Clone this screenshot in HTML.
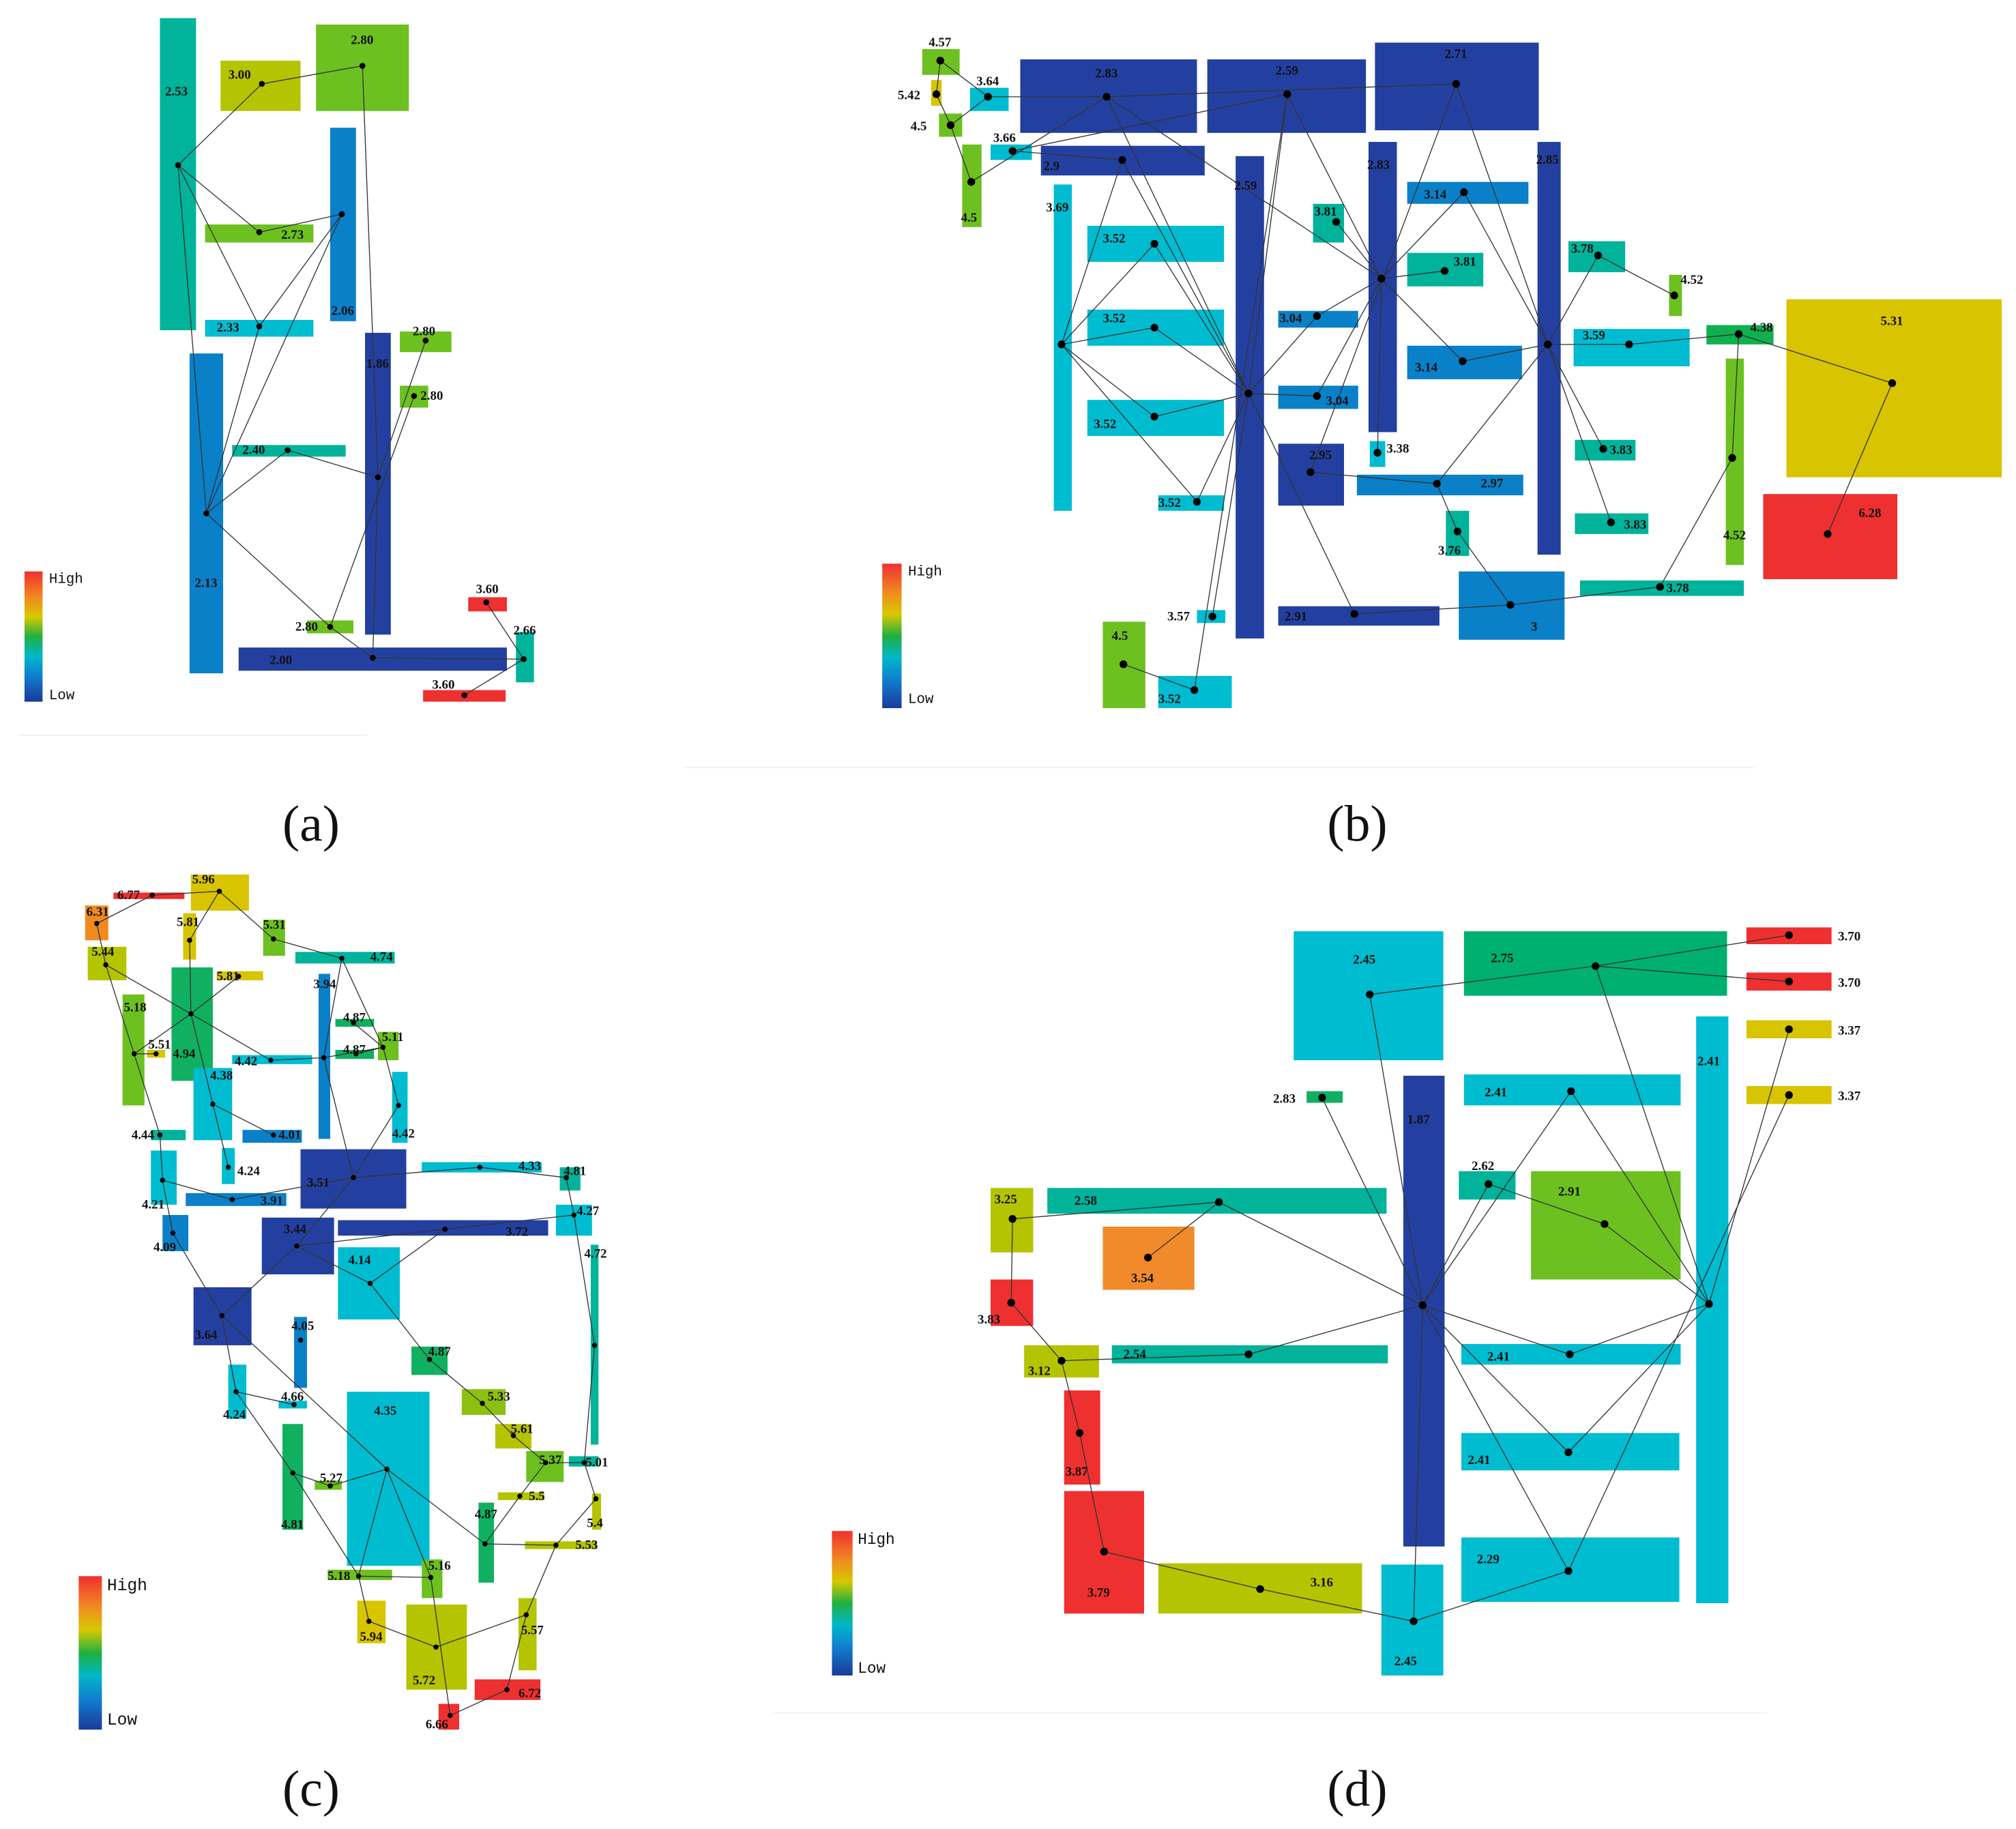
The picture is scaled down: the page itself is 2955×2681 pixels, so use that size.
<!DOCTYPE html>
<html><head><meta charset="utf-8"><style>
html,body{margin:0;padding:0;background:#fff}
svg{display:block}
text{font-family:"Liberation Serif",serif;font-weight:bold;font-size:10px;fill:#111}
.cap{font-size:40px;font-weight:normal}
.lg{font-family:"Liberation Mono",monospace;font-weight:normal;font-size:11px}
line{stroke:#333;stroke-width:0.7}
circle{fill:#000}
</style></head><body>
<svg width="2955" height="2681" viewBox="0 0 1563 1418" xmlns="http://www.w3.org/2000/svg">
<defs><linearGradient id="g" x1="0" y1="0" x2="0" y2="1">
<stop offset="0" stop-color="#f03030"/><stop offset="0.2" stop-color="#f08a20"/><stop offset="0.35" stop-color="#d8c800"/><stop offset="0.5" stop-color="#20b040"/><stop offset="0.65" stop-color="#00b8c8"/><stop offset="0.8" stop-color="#1080d0"/><stop offset="1" stop-color="#1a3a9a"/></linearGradient></defs>

<!-- ===== (a) ===== -->
<g>
<rect x="124" y="14" width="28" height="242" fill="#00b39a"/>
<rect x="171" y="47" width="62" height="39" fill="#b5c400"/>
<rect x="245" y="19" width="72" height="67" fill="#6cc020"/>
<rect x="256" y="99" width="20" height="150" fill="#0a80c8"/>
<rect x="159" y="174" width="84" height="14" fill="#6cc020"/>
<rect x="159" y="248" width="84" height="13" fill="#00bcd0"/>
<rect x="283" y="258" width="20" height="234" fill="#2340a0"/>
<rect x="310" y="257" width="40" height="16" fill="#6cc020"/>
<rect x="310" y="299" width="22" height="17" fill="#6cc020"/>
<rect x="180" y="345" width="88" height="9" fill="#00b39a"/>
<rect x="147" y="274" width="26" height="248" fill="#0a80c8"/>
<rect x="238" y="481" width="36" height="10" fill="#6cc020"/>
<rect x="185" y="502" width="208" height="18" fill="#2340a0"/>
<rect x="363" y="463" width="30" height="11" fill="#ee3030"/>
<rect x="400" y="490" width="14" height="39" fill="#00b39a"/>
<rect x="328" y="535" width="64" height="9" fill="#ee3030"/>
<line x1="138" y1="128" x2="203" y2="65"/><line x1="203" y1="65" x2="281" y2="51"/><line x1="281" y1="51" x2="293" y2="370"/>
<line x1="138" y1="128" x2="201" y2="180"/><line x1="201" y1="180" x2="265" y2="166"/><line x1="138" y1="128" x2="201" y2="253"/>
<line x1="265" y1="166" x2="201" y2="253"/><line x1="138" y1="128" x2="160" y2="398"/><line x1="201" y1="253" x2="160" y2="398"/>
<line x1="160" y1="398" x2="223" y2="349"/><line x1="223" y1="349" x2="293" y2="370"/><line x1="160" y1="398" x2="256" y2="486"/>
<line x1="265" y1="166" x2="160" y2="398"/><line x1="293" y1="370" x2="330" y2="264"/><line x1="321" y1="307" x2="256" y2="486"/>
<line x1="293" y1="370" x2="289" y2="510"/><line x1="256" y1="486" x2="289" y2="510"/><line x1="289" y1="510" x2="406" y2="511"/>
<line x1="377" y1="467" x2="406" y2="511"/><line x1="406" y1="511" x2="360" y2="539"/>
<g><circle cx="138" cy="128" r="2.3"/><circle cx="203" cy="65" r="2.3"/><circle cx="281" cy="51" r="2.3"/><circle cx="265" cy="166" r="2.3"/><circle cx="201" cy="180" r="2.3"/><circle cx="201" cy="253" r="2.3"/><circle cx="330" cy="264" r="2.3"/><circle cx="321" cy="307" r="2.3"/><circle cx="223" cy="349" r="2.3"/><circle cx="293" cy="370" r="2.3"/><circle cx="160" cy="398" r="2.3"/><circle cx="256" cy="486" r="2.3"/><circle cx="289" cy="510" r="2.3"/><circle cx="377" cy="467" r="2.3"/><circle cx="406" cy="511" r="2.3"/><circle cx="360" cy="539" r="2.3"/></g>
<text x="128" y="74">2.53</text><text x="177" y="61">3.00</text><text x="272" y="34">2.80</text><text x="218" y="185">2.73</text>
<text x="168" y="257">2.33</text><text x="257" y="244">2.06</text><text x="284" y="285">1.86</text><text x="320" y="260">2.80</text>
<text x="326" y="310">2.80</text><text x="188" y="352">2.40</text><text x="151" y="455">2.13</text><text x="229" y="489">2.80</text>
<text x="209" y="515">2.00</text><text x="369" y="460">3.60</text><text x="398" y="492">2.66</text><text x="335" y="534">3.60</text>
<rect x="19" y="443" width="14" height="101" fill="url(#g)"/>
<text class="lg" x="38" y="452">High</text><text class="lg" x="38" y="542">Low</text>
<line x1="14" y1="570" x2="285" y2="570" style="stroke:#eee"/>
<text class="cap" x="219" y="652">(a)</text>
</g>

<!-- ===== (b) ===== -->
<g>
<rect x="715" y="38" width="29" height="20" fill="#6cc020"/>
<rect x="722" y="62" width="8" height="20" fill="#d8c400"/>
<rect x="728" y="88" width="18" height="18" fill="#6cc020"/>
<rect x="752" y="68" width="30" height="18" fill="#00bcd0"/>
<rect x="746" y="112" width="15" height="64" fill="#6cc020"/>
<rect x="768" y="112" width="32" height="12" fill="#00bcd0"/>
<rect x="791" y="46" width="137" height="57" fill="#2340a0"/>
<rect x="936" y="46" width="123" height="57" fill="#2340a0"/>
<rect x="1066" y="33" width="127" height="68" fill="#2340a0"/>
<rect x="807" y="113" width="127" height="23" fill="#2340a0"/>
<rect x="817" y="143" width="14" height="253" fill="#00bcd0"/>
<rect x="958" y="121" width="22" height="374" fill="#2340a0"/>
<rect x="1061" y="110" width="22" height="225" fill="#2340a0"/>
<rect x="1192" y="110" width="18" height="320" fill="#2340a0"/>
<rect x="1018" y="158" width="24" height="30" fill="#00b39a"/>
<rect x="1091" y="141" width="94" height="17" fill="#0a80c8"/>
<rect x="1091" y="196" width="59" height="26" fill="#00b39a"/>
<rect x="843" y="175" width="106" height="28" fill="#00bcd0"/>
<rect x="843" y="240" width="106" height="28" fill="#00bcd0"/>
<rect x="843" y="310" width="106" height="28" fill="#00bcd0"/>
<rect x="991" y="241" width="62" height="13" fill="#0a80c8"/>
<rect x="991" y="299" width="62" height="18" fill="#0a80c8"/>
<rect x="1091" y="268" width="89" height="26" fill="#0a80c8"/>
<rect x="1216" y="187" width="44" height="24" fill="#00b39a"/>
<rect x="1294" y="213" width="10" height="32" fill="#6cc020"/>
<rect x="1220" y="255" width="90" height="29" fill="#00bcd0"/>
<rect x="1323" y="252" width="52" height="15" fill="#10b050"/>
<rect x="1385" y="232" width="167" height="138" fill="#d8c400"/>
<rect x="1367" y="383" width="104" height="66" fill="#ee3030"/>
<rect x="1338" y="278" width="14" height="160" fill="#6cc020"/>
<rect x="1062" y="342" width="12" height="20" fill="#00bcd0"/>
<rect x="991" y="344" width="51" height="48" fill="#2340a0"/>
<rect x="1052" y="368" width="129" height="16" fill="#0a80c8"/>
<rect x="1221" y="341" width="47" height="16" fill="#00b39a"/>
<rect x="1121" y="396" width="18" height="35" fill="#00b39a"/>
<rect x="1221" y="398" width="57" height="16" fill="#00b39a"/>
<rect x="898" y="384" width="51" height="12" fill="#00bcd0"/>
<rect x="928" y="473" width="22" height="10" fill="#00bcd0"/>
<rect x="991" y="470" width="125" height="15" fill="#2340a0"/>
<rect x="1131" y="443" width="82" height="53" fill="#0a80c8"/>
<rect x="1225" y="450" width="127" height="12" fill="#00b39a"/>
<rect x="855" y="482" width="33" height="67" fill="#6cc020"/>
<rect x="898" y="524" width="57" height="25" fill="#00bcd0"/>
<line x1="729" y1="47" x2="766" y2="75"/><line x1="729" y1="47" x2="726" y2="73"/><line x1="726" y1="73" x2="737" y2="97"/>
<line x1="737" y1="97" x2="753" y2="141"/><line x1="737" y1="97" x2="766" y2="75"/><line x1="766" y1="75" x2="858" y2="75"/>
<line x1="858" y1="75" x2="1129" y2="65"/><line x1="753" y1="141" x2="858" y2="75"/><line x1="785" y1="117" x2="870" y2="124"/>
<line x1="785" y1="117" x2="998" y2="73"/><line x1="858" y1="75" x2="968" y2="305"/><line x1="858" y1="75" x2="1071" y2="216"/>
<line x1="998" y1="73" x2="968" y2="305"/><line x1="998" y1="73" x2="1071" y2="216"/><line x1="998" y1="73" x2="926" y2="535"/>
<line x1="1129" y1="65" x2="1200" y2="267"/><line x1="1129" y1="65" x2="1016" y2="366"/>
<line x1="870" y1="124" x2="968" y2="305"/><line x1="870" y1="124" x2="823" y2="267"/>
<line x1="823" y1="267" x2="895" y2="189"/><line x1="823" y1="267" x2="895" y2="254"/><line x1="823" y1="267" x2="895" y2="323"/><line x1="823" y1="267" x2="928" y2="389"/>
<line x1="895" y1="189" x2="968" y2="305"/><line x1="895" y1="254" x2="968" y2="305"/><line x1="895" y1="323" x2="968" y2="305"/><line x1="928" y1="389" x2="968" y2="305"/>
<line x1="968" y1="305" x2="940" y2="478"/><line x1="968" y1="305" x2="1021" y2="307"/><line x1="968" y1="305" x2="1021" y2="245"/><line x1="968" y1="305" x2="1050" y2="476"/>
<line x1="871" y1="515" x2="926" y2="535"/>
<line x1="1071" y1="216" x2="1036" y2="172"/><line x1="1071" y1="216" x2="1120" y2="210"/><line x1="1071" y1="216" x2="1135" y2="149"/><line x1="1071" y1="216" x2="1021" y2="245"/>
<line x1="1071" y1="216" x2="1021" y2="307"/><line x1="1071" y1="216" x2="1134" y2="280"/><line x1="1071" y1="216" x2="1068" y2="351"/>
<line x1="1135" y1="149" x2="1200" y2="267"/><line x1="1200" y1="267" x2="1239" y2="198"/><line x1="1239" y1="198" x2="1298" y2="229"/>
<line x1="1200" y1="267" x2="1263" y2="267"/><line x1="1263" y1="267" x2="1348" y2="259"/><line x1="1200" y1="267" x2="1243" y2="348"/>
<line x1="1200" y1="267" x2="1249" y2="405"/><line x1="1200" y1="267" x2="1114" y2="375"/><line x1="1200" y1="267" x2="1134" y2="280"/><line x1="1016" y1="366" x2="1114" y2="375"/>
<line x1="1114" y1="375" x2="1130" y2="412"/><line x1="1130" y1="412" x2="1171" y2="469"/><line x1="1050" y1="476" x2="1171" y2="469"/>
<line x1="1171" y1="469" x2="1287" y2="455"/><line x1="1287" y1="455" x2="1343" y2="355"/><line x1="1343" y1="355" x2="1348" y2="259"/>
<line x1="1348" y1="259" x2="1467" y2="297"/><line x1="1467" y1="297" x2="1417" y2="414"/>
<g><circle cx="729" cy="47" r="3"/><circle cx="726" cy="73" r="3"/><circle cx="737" cy="97" r="3"/><circle cx="766" cy="75" r="3"/><circle cx="753" cy="141" r="3"/><circle cx="785" cy="117" r="3"/><circle cx="858" cy="75" r="3"/><circle cx="998" cy="73" r="3"/><circle cx="1129" cy="65" r="3"/><circle cx="870" cy="124" r="3"/><circle cx="823" cy="267" r="3"/><circle cx="968" cy="305" r="3"/><circle cx="1071" cy="216" r="3"/><circle cx="1200" cy="267" r="3"/><circle cx="1036" cy="172" r="3"/><circle cx="1135" cy="149" r="3"/><circle cx="1120" cy="210" r="3"/><circle cx="895" cy="189" r="3"/><circle cx="895" cy="254" r="3"/><circle cx="895" cy="323" r="3"/><circle cx="1021" cy="245" r="3"/><circle cx="1021" cy="307" r="3"/><circle cx="1134" cy="280" r="3"/><circle cx="1239" cy="198" r="3"/><circle cx="1298" cy="229" r="3"/><circle cx="1263" cy="267" r="3"/><circle cx="1348" cy="259" r="3"/><circle cx="1467" cy="297" r="3"/><circle cx="1417" cy="414" r="3"/><circle cx="1343" cy="355" r="3"/><circle cx="1068" cy="351" r="3"/><circle cx="1016" cy="366" r="3"/><circle cx="1114" cy="375" r="3"/><circle cx="1243" cy="348" r="3"/><circle cx="1130" cy="412" r="3"/><circle cx="1249" cy="405" r="3"/><circle cx="928" cy="389" r="3"/><circle cx="940" cy="478" r="3"/><circle cx="1050" cy="476" r="3"/><circle cx="1171" cy="469" r="3"/><circle cx="1287" cy="455" r="3"/><circle cx="871" cy="515" r="3"/><circle cx="926" cy="535" r="3"/></g>
<g style="font-size:11px">
<text x="720" y="36">4.57</text><text x="696" y="77">5.42</text><text x="706" y="101">4.5</text><text x="757" y="66">3.64</text>
<text x="745" y="172">4.5</text><text x="770" y="110">3.66</text><text x="849" y="60">2.83</text><text x="989" y="58">2.59</text>
<text x="1120" y="45">2.71</text><text x="809" y="132">2.9</text><text x="811" y="164">3.69</text><text x="957" y="147">2.59</text>
<text x="1060" y="131">2.83</text><text x="1191" y="127">2.85</text><text x="1019" y="167">3.81</text><text x="1104" y="154">3.14</text>
<text x="1127" y="206">3.81</text><text x="855" y="188">3.52</text><text x="855" y="250">3.52</text><text x="848" y="332">3.52</text>
<text x="992" y="250">3.04</text><text x="1028" y="314">3.04</text><text x="1097" y="288">3.14</text><text x="1218" y="196">3.78</text>
<text x="1303" y="220">4.52</text><text x="1227" y="263">3.59</text><text x="1357" y="257">4.38</text><text x="1458" y="252">5.31</text>
<text x="1441" y="401">6.28</text><text x="1336" y="418">4.52</text><text x="1075" y="351">3.38</text><text x="1015" y="356">2.95</text>
<text x="1148" y="378">2.97</text><text x="1248" y="352">3.83</text><text x="1115" y="430">3.76</text><text x="1259" y="410">3.83</text>
<text x="898" y="393">3.52</text><text x="905" y="481">3.57</text><text x="996" y="481">2.91</text><text x="1187" y="489">3</text>
<text x="1292" y="459">3.78</text><text x="862" y="496">4.5</text><text x="898" y="545">3.52</text>
</g>
<rect x="684" y="437" width="15" height="112" fill="url(#g)"/>
<text class="lg" x="704" y="446">High</text><text class="lg" x="704" y="545">Low</text>
<line x1="530" y1="595" x2="1360" y2="595" style="stroke:#eee"/>
<text class="cap" x="1029" y="652">(b)</text>
</g>

<!-- ===== (c) ===== -->
<g>
<rect x="88" y="692" width="55" height="5" fill="#ee3030"/>
<rect x="148" y="678" width="45" height="28" fill="#d8c400"/>
<rect x="66" y="702" width="18" height="27" fill="#f08a20"/>
<rect x="142" y="708" width="10" height="36" fill="#d8c400"/>
<rect x="204" y="713" width="17" height="28" fill="#6cc020"/>
<rect x="229" y="738" width="77" height="9" fill="#00b39a"/>
<rect x="68" y="734" width="30" height="26" fill="#b5c400"/>
<rect x="168" y="753" width="36" height="7" fill="#d8c400"/>
<rect x="247" y="755" width="9" height="128" fill="#0a80c8"/>
<rect x="95" y="771" width="17" height="86" fill="#6cc020"/>
<rect x="133" y="750" width="32" height="88" fill="#10b060"/>
<rect x="114" y="814" width="14" height="6" fill="#d8c400"/>
<rect x="260" y="790" width="30" height="6" fill="#10b060"/>
<rect x="260" y="814" width="30" height="7" fill="#10b060"/>
<rect x="293" y="800" width="16" height="22" fill="#6cc020"/>
<rect x="180" y="818" width="62" height="7" fill="#00bcd0"/>
<rect x="150" y="828" width="30" height="56" fill="#00bcd0"/>
<rect x="304" y="831" width="12" height="55" fill="#00bcd0"/>
<rect x="117" y="876" width="27" height="8" fill="#00b39a"/>
<rect x="188" y="876" width="46" height="10" fill="#0a80c8"/>
<rect x="233" y="891" width="82" height="46" fill="#2340a0"/>
<rect x="327" y="901" width="93" height="8" fill="#00bcd0"/>
<rect x="434" y="905" width="16" height="18" fill="#00b39a"/>
<rect x="172" y="890" width="10" height="28" fill="#00bcd0"/>
<rect x="117" y="892" width="20" height="42" fill="#00bcd0"/>
<rect x="144" y="925" width="78" height="10" fill="#0a80c8"/>
<rect x="431" y="934" width="28" height="24" fill="#00bcd0"/>
<rect x="262" y="946" width="163" height="12" fill="#2340a0"/>
<rect x="203" y="944" width="56" height="44" fill="#2340a0"/>
<rect x="126" y="942" width="20" height="28" fill="#0a80c8"/>
<rect x="262" y="967" width="48" height="56" fill="#00bcd0"/>
<rect x="458" y="965" width="6" height="155" fill="#00b39a"/>
<rect x="150" y="998" width="45" height="45" fill="#2340a0"/>
<rect x="228" y="1021" width="10" height="55" fill="#0a80c8"/>
<rect x="319" y="1044" width="28" height="22" fill="#10b060"/>
<rect x="177" y="1058" width="14" height="42" fill="#00bcd0"/>
<rect x="358" y="1077" width="34" height="20" fill="#8cc010"/>
<rect x="216" y="1086" width="22" height="6" fill="#00bcd0"/>
<rect x="269" y="1079" width="64" height="135" fill="#00bcd0"/>
<rect x="384" y="1104" width="28" height="19" fill="#b5c400"/>
<rect x="219" y="1104" width="16" height="82" fill="#10b060"/>
<rect x="408" y="1125" width="29" height="24" fill="#6cc020"/>
<rect x="441" y="1129" width="23" height="8" fill="#00b39a"/>
<rect x="244" y="1148" width="21" height="7" fill="#6cc020"/>
<rect x="386" y="1157" width="36" height="6" fill="#b5c400"/>
<rect x="371" y="1165" width="12" height="62" fill="#10b060"/>
<rect x="459" y="1158" width="7" height="28" fill="#b5c400"/>
<rect x="407" y="1195" width="56" height="6" fill="#b5c400"/>
<rect x="254" y="1217" width="50" height="8" fill="#6cc020"/>
<rect x="327" y="1209" width="16" height="30" fill="#6cc020"/>
<rect x="277" y="1241" width="22" height="33" fill="#d8c400"/>
<rect x="402" y="1239" width="14" height="56" fill="#b5c400"/>
<rect x="315" y="1244" width="47" height="66" fill="#b5c400"/>
<rect x="368" y="1302" width="51" height="16" fill="#ee3030"/>
<rect x="340" y="1321" width="16" height="20" fill="#ee3030"/>
<line x1="75" y1="716" x2="118" y2="694"/><line x1="118" y1="694" x2="170" y2="691"/><line x1="170" y1="691" x2="147" y2="729"/>
<line x1="170" y1="691" x2="212" y2="728"/><line x1="212" y1="728" x2="265" y2="743"/><line x1="265" y1="743" x2="297" y2="812"/>
<line x1="75" y1="716" x2="82" y2="748"/><line x1="82" y1="748" x2="148" y2="786"/><line x1="147" y1="729" x2="148" y2="786"/>
<line x1="148" y1="786" x2="185" y2="757"/><line x1="148" y1="786" x2="165" y2="856"/><line x1="148" y1="786" x2="210" y2="822"/>
<line x1="82" y1="748" x2="124" y2="880"/><line x1="104" y1="817" x2="121" y2="817"/><line x1="148" y1="786" x2="104" y2="817"/>
<line x1="210" y1="822" x2="251" y2="820"/><line x1="251" y1="820" x2="297" y2="812"/><line x1="274" y1="793" x2="297" y2="812"/>
<line x1="276" y1="817" x2="297" y2="812"/><line x1="297" y1="812" x2="309" y2="857"/><line x1="309" y1="857" x2="274" y2="913"/>
<line x1="251" y1="820" x2="274" y2="913"/><line x1="265" y1="743" x2="251" y2="820"/><line x1="165" y1="856" x2="212" y2="880"/>
<line x1="165" y1="856" x2="177" y2="905"/><line x1="124" y1="880" x2="126" y2="915"/><line x1="126" y1="915" x2="180" y2="930"/>
<line x1="180" y1="930" x2="274" y2="913"/><line x1="126" y1="915" x2="134" y2="956"/><line x1="134" y1="956" x2="172" y2="1020"/>
<line x1="172" y1="1020" x2="230" y2="966"/><line x1="230" y1="966" x2="274" y2="913"/><line x1="230" y1="966" x2="345" y2="953"/>
<line x1="345" y1="953" x2="445" y2="942"/><line x1="274" y1="913" x2="372" y2="905"/><line x1="372" y1="905" x2="439" y2="913"/>
<line x1="439" y1="913" x2="445" y2="942"/><line x1="445" y1="942" x2="461" y2="1043"/><line x1="230" y1="966" x2="287" y2="995"/>
<line x1="287" y1="995" x2="345" y2="953"/><line x1="287" y1="995" x2="333" y2="1054"/><line x1="333" y1="1054" x2="374" y2="1088"/>
<line x1="374" y1="1088" x2="398" y2="1113"/><line x1="398" y1="1113" x2="423" y2="1134"/><line x1="423" y1="1134" x2="453" y2="1134"/>
<line x1="461" y1="1043" x2="453" y2="1134"/><line x1="453" y1="1134" x2="462" y2="1162"/><line x1="462" y1="1162" x2="431" y2="1198"/>
<line x1="431" y1="1198" x2="376" y2="1197"/><line x1="376" y1="1197" x2="403" y2="1160"/><line x1="403" y1="1160" x2="423" y2="1134"/>
<line x1="376" y1="1197" x2="300" y2="1139"/><line x1="172" y1="1020" x2="183" y2="1079"/><line x1="183" y1="1079" x2="228" y2="1089"/>
<line x1="183" y1="1079" x2="227" y2="1142"/><line x1="227" y1="1142" x2="256" y2="1152"/><line x1="256" y1="1152" x2="300" y2="1139"/>
<line x1="227" y1="1142" x2="278" y2="1222"/><line x1="300" y1="1139" x2="278" y2="1222"/><line x1="300" y1="1139" x2="172" y2="1020"/>
<line x1="300" y1="1139" x2="334" y2="1223"/><line x1="334" y1="1223" x2="349" y2="1330"/><line x1="286" y1="1257" x2="278" y2="1222"/>
<line x1="286" y1="1257" x2="338" y2="1277"/><line x1="338" y1="1277" x2="408" y2="1252"/><line x1="408" y1="1252" x2="431" y2="1198"/>
<line x1="408" y1="1252" x2="393" y2="1310"/><line x1="393" y1="1310" x2="349" y2="1330"/><line x1="278" y1="1222" x2="334" y2="1223"/>
<g><circle cx="118" cy="694" r="2"/><circle cx="170" cy="691" r="2"/><circle cx="75" cy="716" r="2"/><circle cx="147" cy="729" r="2"/><circle cx="212" cy="728" r="2"/><circle cx="265" cy="743" r="2"/><circle cx="82" cy="748" r="2"/><circle cx="185" cy="757" r="2"/><circle cx="251" cy="820" r="2"/><circle cx="148" cy="786" r="2"/><circle cx="121" cy="817" r="2"/><circle cx="104" cy="817" r="2"/><circle cx="274" cy="793" r="2"/><circle cx="276" cy="817" r="2"/><circle cx="297" cy="812" r="2"/><circle cx="210" cy="822" r="2"/><circle cx="165" cy="856" r="2"/><circle cx="309" cy="857" r="2"/><circle cx="124" cy="880" r="2"/><circle cx="212" cy="880" r="2"/><circle cx="274" cy="913" r="2"/><circle cx="372" cy="905" r="2"/><circle cx="439" cy="913" r="2"/><circle cx="177" cy="905" r="2"/><circle cx="126" cy="915" r="2"/><circle cx="180" cy="930" r="2"/><circle cx="445" cy="942" r="2"/><circle cx="345" cy="953" r="2"/><circle cx="230" cy="966" r="2"/><circle cx="134" cy="956" r="2"/><circle cx="287" cy="995" r="2"/><circle cx="461" cy="1043" r="2"/><circle cx="172" cy="1020" r="2"/><circle cx="233" cy="1039" r="2"/><circle cx="333" cy="1054" r="2"/><circle cx="183" cy="1079" r="2"/><circle cx="374" cy="1088" r="2"/><circle cx="228" cy="1089" r="2"/><circle cx="300" cy="1139" r="2"/><circle cx="398" cy="1113" r="2"/><circle cx="227" cy="1142" r="2"/><circle cx="423" cy="1134" r="2"/><circle cx="453" cy="1134" r="2"/><circle cx="256" cy="1152" r="2"/><circle cx="403" cy="1160" r="2"/><circle cx="376" cy="1197" r="2"/><circle cx="462" cy="1162" r="2"/><circle cx="431" cy="1198" r="2"/><circle cx="278" cy="1222" r="2"/><circle cx="334" cy="1223" r="2"/><circle cx="286" cy="1257" r="2"/><circle cx="408" cy="1252" r="2"/><circle cx="338" cy="1277" r="2"/><circle cx="393" cy="1310" r="2"/><circle cx="349" cy="1330" r="2"/></g>
<g style="font-size:8px">
<text x="91" y="697">6.77</text><text x="149" y="685">5.96</text><text x="67" y="710">6.31</text><text x="137" y="718">5.81</text>
<text x="204" y="720">5.31</text><text x="287" y="745">4.74</text><text x="71" y="741">5.44</text><text x="168" y="760">5.81</text>
<text x="243" y="766">3.94</text><text x="96" y="784">5.18</text><text x="134" y="820">4.94</text><text x="115" y="813">5.51</text>
<text x="266" y="792">4.87</text><text x="266" y="817">4.87</text><text x="296" y="807">5.11</text><text x="182" y="826">4.42</text>
<text x="163" y="837">4.38</text><text x="304" y="882">4.42</text><text x="102" y="883">4.44</text><text x="216" y="883">4.01</text>
<text x="238" y="920">3.51</text><text x="402" y="907">4.33</text><text x="437" y="911">4.81</text><text x="184" y="911">4.24</text>
<text x="110" y="937">4.21</text><text x="202" y="934">3.91</text><text x="447" y="942">4.27</text><text x="392" y="958">3.72</text>
<text x="220" y="956">3.44</text><text x="119" y="970">4.09</text><text x="270" y="980">4.14</text><text x="453" y="975">4.72</text>
<text x="151" y="1038">3.64</text><text x="226" y="1031">4.05</text><text x="332" y="1051">4.87</text><text x="378" y="1086">5.33</text>
<text x="173" y="1100">4.24</text><text x="218" y="1086">4.66</text><text x="290" y="1097">4.35</text><text x="396" y="1111">5.61</text>
<text x="218" y="1185">4.81</text><text x="418" y="1135">5.37</text><text x="454" y="1137">5.01</text><text x="248" y="1149">5.27</text>
<text x="410" y="1163">5.5</text><text x="368" y="1177">4.87</text><text x="455" y="1184">5.4</text><text x="446" y="1201">5.53</text>
<text x="254" y="1225">5.18</text><text x="332" y="1217">5.16</text><text x="279" y="1272">5.94</text><text x="404" y="1267">5.57</text>
<text x="320" y="1306">5.72</text><text x="402" y="1316">6.72</text><text x="330" y="1340">6.66</text>
</g>
<rect x="61" y="1222" width="18" height="119" fill="url(#g)"/>
<text class="lg" x="83" y="1233" style="font-size:13px">High</text><text class="lg" x="83" y="1337" style="font-size:13px">Low</text>
<text class="cap" x="219" y="1400">(c)</text>
</g>

<!-- ===== (d) ===== -->
<g>
<rect x="1003" y="722" width="116" height="100" fill="#00bcd0"/>
<rect x="1135" y="722" width="204" height="50" fill="#00b070"/>
<rect x="1354" y="719" width="66" height="13" fill="#ee3030"/>
<rect x="1354" y="754" width="66" height="14" fill="#ee3030"/>
<rect x="1354" y="791" width="66" height="14" fill="#d8c400"/>
<rect x="1354" y="842" width="66" height="14" fill="#d8c400"/>
<rect x="1315" y="788" width="25" height="455" fill="#00bcd0"/>
<rect x="1013" y="846" width="28" height="9" fill="#10b060"/>
<rect x="1088" y="834" width="32" height="365" fill="#2340a0"/>
<rect x="1135" y="833" width="168" height="24" fill="#00bcd0"/>
<rect x="1131" y="908" width="44" height="22" fill="#00b39a"/>
<rect x="1187" y="908" width="116" height="84" fill="#6cc020"/>
<rect x="768" y="921" width="33" height="50" fill="#b5c400"/>
<rect x="812" y="921" width="263" height="20" fill="#00b39a"/>
<rect x="855" y="951" width="71" height="49" fill="#f08a2a"/>
<rect x="768" y="992" width="33" height="36" fill="#ee3030"/>
<rect x="794" y="1043" width="58" height="25" fill="#b5c400"/>
<rect x="862" y="1043" width="214" height="14" fill="#00b39a"/>
<rect x="1133" y="1042" width="170" height="16" fill="#00bcd0"/>
<rect x="825" y="1078" width="28" height="73" fill="#ee3030"/>
<rect x="1133" y="1111" width="169" height="29" fill="#00bcd0"/>
<rect x="825" y="1156" width="62" height="95" fill="#ee3030"/>
<rect x="898" y="1212" width="158" height="39" fill="#b5c400"/>
<rect x="1133" y="1192" width="169" height="50" fill="#00bcd0"/>
<rect x="1071" y="1213" width="48" height="86" fill="#00bcd0"/>
<line x1="1062" y1="771" x2="1237" y2="749"/><line x1="1237" y1="749" x2="1387" y2="725"/><line x1="1237" y1="749" x2="1387" y2="761"/>
<line x1="1237" y1="749" x2="1325" y2="1011"/><line x1="1062" y1="771" x2="1103" y2="1012"/><line x1="1025" y1="851" x2="1103" y2="1012"/>
<line x1="1103" y1="1012" x2="1154" y2="918"/><line x1="1103" y1="1012" x2="1218" y2="846"/><line x1="1103" y1="1012" x2="1217" y2="1050"/>
<line x1="1103" y1="1012" x2="1216" y2="1126"/><line x1="1103" y1="1012" x2="1216" y2="1218"/><line x1="1103" y1="1012" x2="1096" y2="1257"/>
<line x1="1103" y1="1012" x2="945" y2="932"/><line x1="1103" y1="1012" x2="968" y2="1050"/><line x1="968" y1="1050" x2="823" y2="1055"/>
<line x1="1154" y1="918" x2="1244" y2="949"/><line x1="1244" y1="949" x2="1325" y2="1011"/><line x1="1218" y1="846" x2="1325" y2="1011"/>
<line x1="1217" y1="1050" x2="1325" y2="1011"/><line x1="1216" y1="1126" x2="1325" y2="1011"/><line x1="1325" y1="1011" x2="1387" y2="798"/>
<line x1="1216" y1="1218" x2="1387" y2="849"/><line x1="1216" y1="1218" x2="1096" y2="1257"/><line x1="1096" y1="1257" x2="977" y2="1232"/>
<line x1="977" y1="1232" x2="856" y2="1203"/><line x1="856" y1="1203" x2="837" y2="1111"/><line x1="837" y1="1111" x2="823" y2="1055"/>
<line x1="823" y1="1055" x2="784" y2="1010"/><line x1="784" y1="1010" x2="785" y2="945"/><line x1="785" y1="945" x2="945" y2="932"/>
<line x1="945" y1="932" x2="890" y2="975"/>
<g><circle cx="1062" cy="771" r="3"/><circle cx="1237" cy="749" r="3"/><circle cx="1387" cy="725" r="3"/><circle cx="1387" cy="761" r="3"/><circle cx="1387" cy="798" r="3"/><circle cx="1387" cy="849" r="3"/><circle cx="1325" cy="1011" r="3"/><circle cx="1025" cy="851" r="3"/><circle cx="1103" cy="1012" r="3"/><circle cx="1218" cy="846" r="3"/><circle cx="1154" cy="918" r="3"/><circle cx="1244" cy="949" r="3"/><circle cx="785" cy="945" r="3"/><circle cx="945" cy="932" r="3"/><circle cx="890" cy="975" r="3"/><circle cx="784" cy="1010" r="3"/><circle cx="823" cy="1055" r="3"/><circle cx="968" cy="1050" r="3"/><circle cx="1217" cy="1050" r="3"/><circle cx="837" cy="1111" r="3"/><circle cx="1216" cy="1126" r="3"/><circle cx="856" cy="1203" r="3"/><circle cx="977" cy="1232" r="3"/><circle cx="1216" cy="1218" r="3"/><circle cx="1096" cy="1257" r="3"/></g>
<g style="font-size:12px">
<text x="1049" y="747">2.45</text><text x="1156" y="746">2.75</text><text x="1425" y="729">3.70</text><text x="1425" y="765">3.70</text>
<text x="1425" y="802">3.37</text><text x="1425" y="853">3.37</text><text x="1316" y="826">2.41</text><text x="987" y="855">2.83</text>
<text x="1091" y="871">1.87</text><text x="1151" y="850">2.41</text><text x="1141" y="907">2.62</text><text x="1208" y="927">2.91</text>
<text x="771" y="933">3.25</text><text x="833" y="934">2.58</text><text x="877" y="994">3.54</text><text x="758" y="1026">3.83</text>
<text x="797" y="1066">3.12</text><text x="871" y="1053">2.54</text><text x="1153" y="1055">2.41</text><text x="826" y="1144">3.87</text>
<text x="1138" y="1135">2.41</text><text x="843" y="1238">3.79</text><text x="1016" y="1230">3.16</text><text x="1145" y="1212">2.29</text>
<text x="1081" y="1291">2.45</text>
</g>
<rect x="645" y="1187" width="16" height="112" fill="url(#g)"/>
<text class="lg" x="665" y="1197" style="font-size:12px">High</text><text class="lg" x="665" y="1297" style="font-size:12px">Low</text>
<line x1="600" y1="1328" x2="1370" y2="1328" style="stroke:#eee"/>
<text class="cap" x="1029" y="1400">(d)</text>
</g>
</svg>
</body></html>
